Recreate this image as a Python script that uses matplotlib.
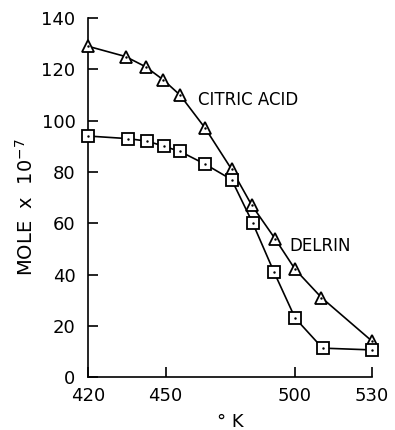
import matplotlib.pyplot as plt
import numpy as np

# temperatures (K)
temp_citric = [420, 434.5, 442.3, 449, 455.6, 465.4, 475.6, 483.4, 492.4, 500.2, 510.4, 530]
temp_delrin = [420, 435.3, 443, 449.4, 455.6, 465.4, 475.6, 483.8, 492, 500.2, 510.8, 530]
# moles x 10^-7
mole_citric = [129, 125, 121, 116, 110, 97, 81, 67, 54, 42, 31, 14]
mole_delrin = [94, 93, 92, 90, 88, 83, 77, 60, 41, 23, 11.3, 10.6]

xticks = [420, 450, 500, 530]
yticks = [0, 20, 40, 60, 80, 100, 120, 140]

plt.rcParams['font.family'] = ['DejaVu Sans']

fig = plt.figure(figsize=(3.95, 4.3), dpi=100)
ax = fig.add_axes([0.223, 0.123, 0.719, 0.835])

ax.plot(temp_citric, mole_citric, color='black', lw=1.2,
        marker='^', markersize=9, markerfacecolor='white',
        markeredgecolor='black', markeredgewidth=1.3, zorder=3, clip_on=False)
ax.plot(temp_delrin, mole_delrin, color='black', lw=1.2,
        marker='s', markersize=8, markerfacecolor='white',
        markeredgecolor='black', markeredgewidth=1.3, zorder=3, clip_on=False)
# small dots in the centre of the markers
ax.plot(temp_citric, mole_citric, ls='none', marker='.', markersize=1.5,
        color='black', zorder=4, clip_on=False)
ax.plot(temp_delrin, mole_delrin, ls='none', marker='.', markersize=1.5,
        color='black', zorder=4, clip_on=False)

ax.text(462.5, 108, 'CITRIC ACID', fontsize=12, va='center', ha='left')
ax.text(498, 51, 'DELRIN', fontsize=12, va='center', ha='left')

ax.set_xlim(420, 530)
ax.set_ylim(0, 140)
ax.set_xticks(xticks)
ax.set_yticks(yticks)
ax.spines['top'].set_visible(False)
ax.spines['right'].set_visible(False)
for s in ['left', 'bottom']:
    ax.spines[s].set_linewidth(1.2)
ax.tick_params(direction='in', length=7, width=1.2, labelsize=13, pad=9)
ax.tick_params(axis='x', pad=7)

ax.set_xlabel('° K', fontsize=13, labelpad=6)
ax.set_ylabel(r'MOLE  x  10$^{-7}$', fontsize=14)
ax.yaxis.set_label_coords(-0.18, 0.474)

fig.savefig('out.png', dpi=100)
